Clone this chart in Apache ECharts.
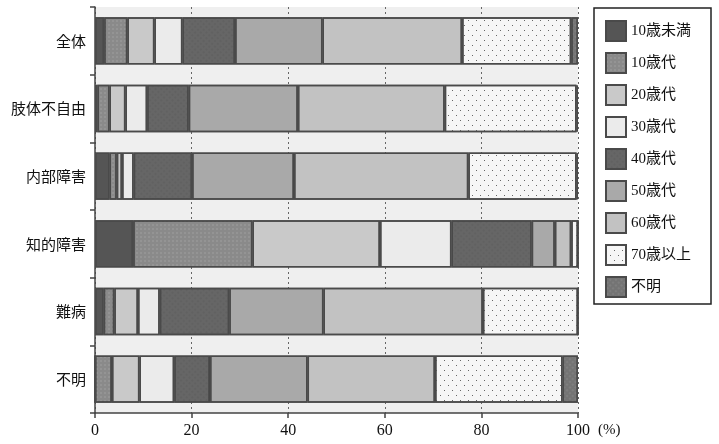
<!DOCTYPE html>
<html><head><meta charset="utf-8">
<script src="https://cdn.jsdelivr.net/npm/echarts@6/dist/echarts.min.js"></script>
<style>html,body{margin:0;padding:0;background:#fff}#c{width:719px;height:444px}</style>
</head><body><div id="c"></div>
<script>
const categories = ['全体','肢体不自由','内部障害','知的障害','難病','不明'];
const seriesNames = ['10歳未満','10歳代','20歳代','30歳代','40歳代','50歳代','60歳代','70歳以上','不明'];
const v10under = [1.9, 0.5, 3.0, 7.9, 1.8, 0.0];
const v10s     = [4.8, 2.5, 1.5, 24.7, 2.2, 3.5];
const v20s     = [5.6, 3.3, 1.1, 26.4, 4.9, 5.7];
const v30s     = [5.8, 4.5, 2.4, 14.8, 4.5, 7.2];
const v40s     = [10.9, 8.6, 12.1, 16.6, 14.4, 7.4];
const v50s     = [18.1, 22.6, 21.1, 4.8, 19.5, 20.2];
const v60s     = [28.9, 30.4, 36.1, 3.4, 33.0, 26.4];
const v70over  = [22.6, 27.3, 22.4, 1.4, 19.7, 26.4];
const vUnknown = [1.4, 0.3, 0.3, 0.0, 0.0, 3.2];
const xTicks = [0, 20, 40, 60, 80, 100];

const values = [v10under, v10s, v20s, v30s, v40s, v50s, v60s, v70over, vUnknown];
const colors = ['#555555','#8a8a8a','#c9c9c9','#ebebeb','#666666','#a9a9a9','#c2c2c2','#f6f6f6','#747474'];
const decals = [
  {symbol:'none'},
  {symbol:'rect', symbolSize:0.5, color:'rgba(255,255,255,0.35)', dashArrayX:[[2,2]], dashArrayY:[2,2]},
  {symbol:'none'},
  {symbol:'none'},
  {symbol:'rect', symbolSize:0.5, color:'rgba(0,0,0,0.2)', dashArrayX:[[2,2]], dashArrayY:[2,2]},
  {symbol:'none'},
  {symbol:'none'},
  {symbol:'rect', symbolSize:1, color:'#666', dashArrayX:[[1,7],[0,4,1,3]], dashArrayY:[1,4]},
  {symbol:'rect', symbolSize:0.5, color:'rgba(255,255,255,0.3)', dashArrayX:[[2,2]], dashArrayY:[2,2]}
];

const chart = echarts.init(document.getElementById('c'));
chart.setOption({
  animation: false,
  aria: {enabled: true, decal: {show: true}},
  backgroundColor: '#fff',
  grid: {left: 95, right: 141, top: 7, bottom: 31, show: true, backgroundColor: '#efefef', borderWidth: 0},
  legend: {
    orient: 'vertical', left: 594, top: 8,
    padding: [12, 20, 6, 11],
    borderColor: '#222', borderWidth: 1.5,
    itemWidth: 20, itemHeight: 20, itemGap: 10,
    textStyle: {fontFamily: '"Liberation Serif","Noto Sans CJK JP"', fontSize: 15, color: '#111'},
    data: seriesNames.map(n => ({name: n, icon: 'rect'}))
  },
  xAxis: {
    type: 'value', min: 0, max: 100, interval: 20,
    axisLine: {show: true, lineStyle: {color: '#444', width: 1.5}},
    axisTick: {show: true, length: 5, lineStyle: {color: '#444', width: 1.5}},
    axisLabel: {fontFamily: '"Liberation Serif"', fontSize: 16, color: '#111', margin: 10,
      formatter: v => xTicks.includes(v) ? String(v) : ''},
    splitLine: {show: true, lineStyle: {color: '#666', type: [2, 3], width: 1}}
  },
  yAxis: {
    type: 'category', data: categories, inverse: true,
    axisLine: {show: true, lineStyle: {color: '#444', width: 1.5}},
    axisTick: {show: true, length: 5, lineStyle: {color: '#444', width: 1.5}},
    axisLabel: {fontFamily: '"Noto Sans CJK JP"', fontSize: 15, color: '#111', margin: 9},
    splitLine: {show: false}
  },
  graphic: [{type: 'text', left: 598, top: 423,
    style: {text: '(%)', fontFamily: '"Liberation Serif"', fontSize: 15, fill: '#111'}}],
  series: seriesNames.map((n, i) => ({
    name: n, type: 'bar', stack: 'total', barWidth: '70%',
    data: values[i],
    itemStyle: {color: colors[i], borderColor: '#4a4a4a', borderWidth: 1.5, decal: decals[i]},
    emphasis: {disabled: true}
  }))
});
</script></body></html>
